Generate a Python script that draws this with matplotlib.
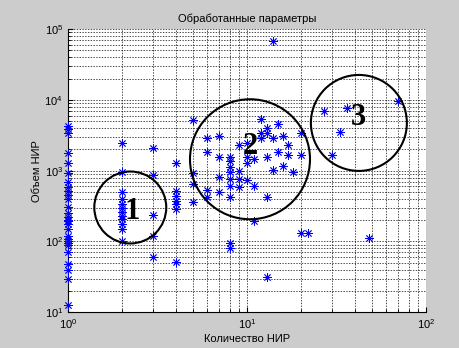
import matplotlib
matplotlib.use('Agg')
import matplotlib.pyplot as plt

plt.rcParams['font.family'] = ['Liberation Sans', 'DejaVu Sans']

# количество НИР / объем НИР
nir_count = (
    [1] * 28
    + [2] * 12
    + [3] * 5
    + [4] * 7
    + [5] * 4
    + [6] * 4
    + [7] * 4
    + [8] * 9
    + [9] * 4
    + [10] * 4
    + [11] * 3
    + [12] * 3
    + [13] * 5
    + [14] * 3
    + [15] * 2
    + [16] * 2
    + [17] * 2
    + [18]
    + [20] * 3
    + [22, 27, 30, 33, 36, 48, 70]
)
nir_volume = (
    [4280, 3880, 3410, 1780, 1285, 929, 692, 589, 517, 454, 398, 307, 253, 222,
     200, 195, 177, 150, 120, 110, 102, 95, 89, 71, 48, 40, 30, 12.7]
    + [2460, 959, 500, 398, 339, 297, 261, 229, 208, 177, 150, 102]
    + [2094, 869, 237, 120, 60]
    + [1285, 522, 444, 373, 339, 288, 51]
    + [5200, 918, 649, 358]
    + [2870, 1853, 534, 430]
    + [3090, 1545, 807, 500]
    + [1578, 1350, 1130, 959, 757, 608, 430, 96, 80]
    + [2307, 1000, 757, 594]
    + [2460, 1578, 1300, 740]
    + [1449, 608, 197]
    + [5320, 3440, 2870]
    + [4050, 3370, 1578, 421, 31.8]
    + [67900, 2870, 1023]
    + [4570, 1853]
    + [3090, 1164]
    + [2307, 1667]
    + [945]
    + [3370, 1667, 133]
    + [133, 7030, 1667, 3480, 7760, 111, 9660]
)

# выделенные группы: центр (x, y), диаметр в пунктах, подпись
group_labels = ['1', '2', '3']
group_x = [2.23, 10.4, 42.2]
group_y = [302, 1449, 4720]
group_size = [51.8, 86.4, 69.1]
label_x = [2.3, 10.4, 41.9]
label_y = [261, 2180, 5680]

fig = plt.figure(figsize=(4.59, 3.48), dpi=100, facecolor='#cccccc')
ax = fig.add_axes([0.148, 0.1026, 0.78, 0.814])
ax.set_facecolor('white')

# звездочка как в MATLAB: "+" и "x" вместе
ax.plot(nir_count, nir_volume, linestyle='none', marker=(8, 2, 0), color='blue',
        markersize=6, markeredgewidth=0.6, clip_on=False, zorder=3)

ax.scatter(group_x, group_y, s=[d ** 2 for d in group_size], facecolors='none',
           edgecolors='black', linewidths=1.5, zorder=4)
for lab, lx, ly in zip(group_labels, label_x, label_y):
    ax.text(lx, ly, lab, fontsize=22, fontweight='bold', family='Liberation Serif',
            ha='center', va='center', zorder=5)

ax.set_xscale('log')
ax.set_yscale('log')
ax.set_xlim(1, 100)
ax.set_ylim(10, 1e5)

ax.grid(True, which='both', color='black', linestyle=(0, (2, 2)), linewidth=0.5)
ax.tick_params(which='both', direction='in', labelsize=8, top=False, right=False)
ax.spines['top'].set_visible(False)
ax.spines['right'].set_visible(False)

ax.set_title('Обработанные параметры', fontsize=8, pad=5)
ax.set_xlabel('Количество НИР', fontsize=8, labelpad=2)
ax.set_ylabel('Объем НИР', fontsize=8, labelpad=2)

fig.savefig('out.png', dpi=100, facecolor=fig.get_facecolor())
